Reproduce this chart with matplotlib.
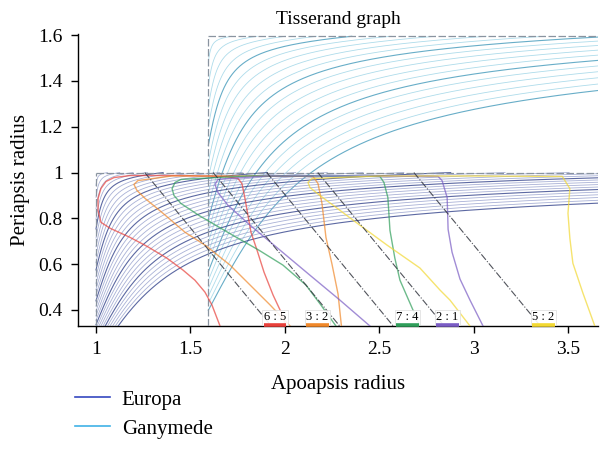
import numpy as np
import matplotlib
matplotlib.use("Agg")
import matplotlib.pyplot as plt
from matplotlib.lines import Line2D

plt.rcParams['font.family'] = ['Liberation Serif', 'DejaVu Serif']

# ---------------- data ----------------
# moons (orbit radius in Europa units, circular speed in km/s)
moon_names = ['Europa', 'Ganymede']
moon_radius = [1.0, 1.595]
moon_speed = [13.74, 10.88]
moon_legend_colors = ['#3548c0', '#3fb2e6']

# v-infinity levels (km/s) drawn for each moon
europa_vinf = [0.2, 0.4, 0.6, 0.8, 1.0, 1.2, 1.4, 1.6, 1.8, 2.0,
               2.2, 2.4, 2.6, 2.8, 3.0, 3.2, 3.4, 3.6, 3.8, 4.0,
               4.2, 4.4, 4.6, 4.8, 5.0, 5.2, 5.4, 5.6, 5.8, 6.0]
ganymede_vinf = [0.2, 0.4, 0.6, 0.8, 1.0, 1.2, 1.4, 1.6, 1.8, 2.0,
                 2.2, 2.4, 2.6, 2.8, 3.0, 3.2, 3.4, 3.6, 3.8, 4.0]

# resonances (spacecraft : Europa period ratio)
res_labels = ['6 : 5', '3 : 2', '7 : 4', '2 : 1', '5 : 2']
res_ratio = [6 / 5, 3 / 2, 7 / 4, 2 / 1, 5 / 2]
res_colors = ['#e8403a', '#f0882a', '#2f9e5a', '#7a5cc4', '#f2d832']
res_label_x = [1.948, 2.173, 2.650, 2.862, 3.370]

# coloured resonance loci (apoapsis, periapsis)
red_ra = [1.657, 1.614, 1.577, 1.524, 1.461, 1.376, 1.270, 1.180, 1.074, 1.026,
          1.011, 1.011, 1.026, 1.053, 1.095, 1.180, 1.445, 1.683, 1.752, 1.773,
          1.789, 1.805, 1.821, 1.853, 1.890, 1.938, 1.980, 2.006]
red_rp = [0.330, 0.422, 0.478, 0.530, 0.574, 0.626, 0.678, 0.717, 0.757, 0.783,
          0.835, 0.887, 0.930, 0.961, 0.978, 0.987, 0.987, 0.983, 0.974, 0.952,
          0.887, 0.813, 0.739, 0.661, 0.565, 0.465, 0.391, 0.330]
orange_ra = [2.028, 1.922, 1.816, 1.710, 1.578, 1.472, 1.355, 1.260, 1.217, 1.201,
             1.222, 1.400, 1.800, 2.150, 2.176, 2.197, 2.218, 2.250, 2.282, 2.300]
orange_rp = [0.330, 0.422, 0.509, 0.596, 0.683, 0.739, 0.822, 0.887, 0.922, 0.948,
             0.965, 0.985, 0.985, 0.983, 0.952, 0.865, 0.717, 0.600, 0.470, 0.330]
green_ra = [2.271, 2.191, 2.112, 1.990, 1.863, 1.725, 1.545, 1.450, 1.413, 1.403,
            1.419, 1.450, 1.800, 2.200, 2.504, 2.525, 2.546, 2.557, 2.583, 2.610,
            2.663, 2.716]
green_rp = [0.330, 0.422, 0.509, 0.596, 0.661, 0.726, 0.813, 0.865, 0.900, 0.930,
            0.957, 0.970, 0.985, 0.985, 0.983, 0.957, 0.891, 0.748, 0.626, 0.530,
            0.430, 0.330]
purple_ra = [2.451, 2.292, 2.133, 1.975, 1.816, 1.699, 1.646, 1.630, 1.646, 1.900,
             2.300, 2.812, 2.833, 2.860, 2.865, 2.886, 2.928, 2.981, 3.050]
purple_rp = [0.330, 0.443, 0.552, 0.661, 0.770, 0.857, 0.913, 0.948, 0.970, 0.985,
             0.985, 0.983, 0.965, 0.891, 0.752, 0.652, 0.535, 0.443, 0.330]
yellow_ra = [2.981, 2.875, 2.822, 2.716, 2.542, 2.398, 2.292, 2.186, 2.133, 2.123,
             2.144, 2.500, 3.000, 3.470, 3.510, 3.500, 3.510, 3.526, 3.579, 3.642]
yellow_rp = [0.330, 0.443, 0.487, 0.583, 0.683, 0.770, 0.835, 0.900, 0.935, 0.957,
             0.974, 0.985, 0.985, 0.983, 0.930, 0.822, 0.713, 0.604, 0.474, 0.330]
loop_ra = [red_ra, orange_ra, green_ra, purple_ra, yellow_ra]
loop_rp = [red_rp, orange_rp, green_rp, purple_rp, yellow_rp]


def tisserand(R, V, vinf, n=6000):
    v = vinf / V
    al = np.linspace(0.0, np.pi, n)
    vt = 1.0 + v * np.cos(al)
    vr = v * np.sin(al)
    v2 = vt ** 2 + vr ** 2
    inv_a = 2.0 - v2
    ok = inv_a > 1e-5
    p = vt[ok] ** 2
    e = np.sqrt(np.clip(1.0 - p * inv_a[ok], 0.0, None))
    rp = p / (1.0 + e)
    ra = p / np.clip(1.0 - e, 1e-9, None)
    return ra * R, rp * R


fig = plt.figure(figsize=(6.0, 4.58), dpi=100)
ax = fig.add_axes([78 / 600, 1 - 326 / 458, 520 / 600, 292 / 458])
XMIN, XMAX = 0.9047, 3.659
YMIN, YMAX = 0.330, 1.605
ax.set_xlim(XMIN, XMAX)
ax.set_ylim(YMIN, YMAX)

# Ganymede curves
for i, vi in enumerate(ganymede_vinf):
    ra, rp = tisserand(moon_radius[1], moon_speed[1], vi)
    dark = (i + 1) % 5 == 0
    ax.plot(ra, rp, color='#4d9fbe' if dark else '#93d0e4',
            lw=0.8 if dark else 0.6, alpha=0.85 if dark else 0.75, zorder=2)

# Europa curves
for i, vi in enumerate(europa_vinf):
    ra, rp = tisserand(moon_radius[0], moon_speed[0], vi)
    dark = (i + 1) % 5 == 0
    ax.plot(ra, rp, color='#4a5898' if dark else '#8c97c8',
            lw=0.8 if dark else 0.6, alpha=0.9 if dark else 0.75, zorder=3)

# moon boxes
box_kw = dict(color='#8a94a0', lw=0.9, ls=(0, (6, 2)), zorder=4)
ax.plot([moon_radius[0], moon_radius[0]], [YMIN, moon_radius[0]], **box_kw)
ax.plot([moon_radius[0], XMAX], [moon_radius[0], moon_radius[0]], **box_kw)
ax.plot([moon_radius[1], moon_radius[1]], [YMIN, moon_radius[1]], **box_kw)
ax.plot([moon_radius[1], XMAX], [moon_radius[1], moon_radius[1]], **box_kw)

# coloured resonance loci
for xs, ys, c in zip(loop_ra, loop_rp, res_colors):
    ax.plot(xs, ys, color=c, lw=1.0, alpha=0.7, zorder=5)

# constant-period resonance lines
for r in res_ratio:
    a = r ** (2.0 / 3.0)
    ax.plot([2 * a - 1.0, 2 * a - YMIN + 0.05], [1.0, YMIN - 0.05],
            color='#33363f', lw=0.8, ls='-.', alpha=0.85, zorder=6)

# resonance labels
for lab, xl, c in zip(res_labels, res_label_x, res_colors):
    ax.text(xl, YMIN + 0.013, lab, ha='center', va='bottom', fontsize=9,
            zorder=8, bbox=dict(boxstyle='square,pad=0.12', fc='white',
                                ec='#d8d8d8', lw=0.5, alpha=0.9))
    ax.plot([xl - 0.06, xl + 0.06], [YMIN + 0.004, YMIN + 0.004], color=c,
            lw=2.6, solid_capstyle='butt', zorder=9, clip_on=False)

for s in ['top', 'right']:
    ax.spines[s].set_visible(False)
ax.spines['left'].set_linewidth(1.0)
ax.spines['bottom'].set_linewidth(1.0)

xticks = [1.0, 1.5, 2.0, 2.5, 3.0, 3.5]
xtick_labels = ['1', '1.5', '2', '2.5', '3', '3.5']
yticks = [0.4, 0.6, 0.8, 1.0, 1.2, 1.4, 1.6]
ytick_labels = ['0.4', '0.6', '0.8', '1', '1.2', '1.4', '1.6']
ax.set_xticks(xticks)
ax.set_xticklabels(xtick_labels)
ax.set_yticks(yticks)
ax.set_yticklabels(ytick_labels)
ax.tick_params(direction='out', length=5, width=1.0, labelsize=14, pad=6)

ax.set_title('Tisserand graph', fontsize=14, pad=7)
ax.set_xlabel('Apoapsis radius', fontsize=15, labelpad=12)
ax.set_ylabel('Periapsis radius', fontsize=15, labelpad=6)

handles = [Line2D([0], [0], color=c, lw=1.2) for c in moon_legend_colors]
fig.legend(handles, moon_names, loc='upper left',
           bbox_to_anchor=(75 / 600, 1 - 390 / 458), frameon=False,
           fontsize=15, handlelength=1.7, handletextpad=0.55,
           labelspacing=0.45, borderpad=0, borderaxespad=0)

fig.savefig('out.png', dpi=100)
